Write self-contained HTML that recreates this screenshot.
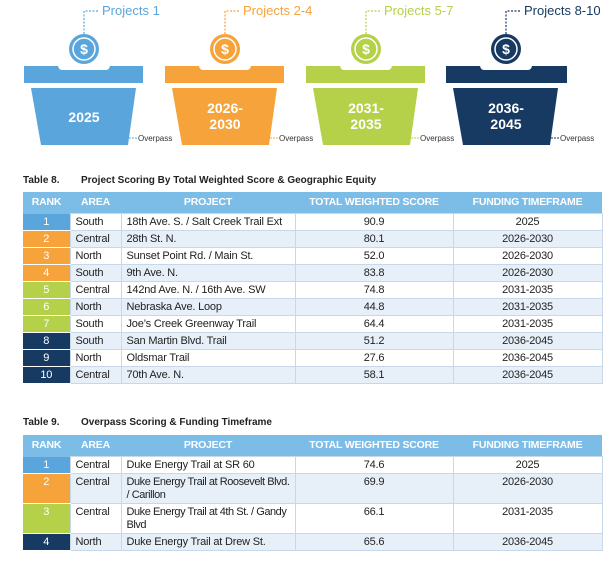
<!DOCTYPE html>
<html><head><meta charset="utf-8">
<style>
body{margin:0;width:611px;height:571px;background:#fff;position:relative;overflow:hidden;font-family:"Liberation Sans",sans-serif;}
.title{position:absolute;left:23px;font-size:10px;font-weight:bold;color:#222;}
.title span{position:absolute;left:58px;white-space:nowrap;}
table{position:absolute;left:23px;width:579px;border-collapse:collapse;table-layout:fixed;font-size:11px;color:#222;letter-spacing:-0.2px;}
th{background:#7cbde8;color:#fff;font-weight:bold;font-size:10.5px;height:21px;padding:0;line-height:21px;}
td{border:1px solid #c9d8e6;padding:0 0 0 5px;height:16px;line-height:16px;vertical-align:top;}
td.c{text-align:center;padding-left:0;}
td.r{color:#fff;text-align:center;padding-left:0;border:none;border-bottom:1px solid #fff;}
td.t{line-height:13px;height:30px;padding-top:2px;box-sizing:border-box;}
td.p{letter-spacing:-0.45px;}
tr.s td{background:#e7f0f9;}
.b1{background:#5aa6dc!important}.b2{background:#f7a33b!important}.b3{background:#b5d14a!important}.b4{background:#173a63!important}
</style></head><body>
<svg width="611" height="160" style="position:absolute;left:0;top:0" font-family="Liberation Sans, sans-serif">
<g transform="translate(0,0)">
 <path d="M84 34 V11 H98" fill="none" stroke="#5aa6dc" stroke-width="1.2" stroke-dasharray="2,1.5"/>
 <text x="102" y="15" font-size="13" fill="#5aa6dc">Projects 1</text>
 <circle cx="84" cy="49" r="15" fill="#5aa6dc"/><circle cx="84" cy="49" r="11" fill="none" stroke="#fff" stroke-width="1.5"/>
 <text x="84" y="54" font-size="14" font-weight="bold" fill="#fff" text-anchor="middle">$</text>
 <path d="M24 66 H58 Q59 70 62 70 H106 Q109 70 110 66 H143 V83 H24Z" fill="#5aa6dc"/>
 <path d="M31 88 H136 L128 145 H41Z" fill="#5aa6dc"/>
 <text x="84" y="122" font-size="14" font-weight="bold" fill="#fff" text-anchor="middle">2025</text>
 <path d="M129 138 H137" stroke="#5aa6dc" stroke-dasharray="2,1"/>
 <text x="138" y="141" font-size="8" fill="#333">Overpass</text>
</g>
<g transform="translate(141,0)">
 <path d="M84 34 V11 H98" fill="none" stroke="#f7a33b" stroke-width="1.2" stroke-dasharray="2,1.5"/>
 <text x="102" y="15" font-size="13" fill="#f7a33b">Projects 2-4</text>
 <circle cx="84" cy="49" r="15" fill="#f7a33b"/><circle cx="84" cy="49" r="11" fill="none" stroke="#fff" stroke-width="1.5"/>
 <text x="84" y="54" font-size="14" font-weight="bold" fill="#fff" text-anchor="middle">$</text>
 <path d="M24 66 H58 Q59 70 62 70 H106 Q109 70 110 66 H143 V83 H24Z" fill="#f7a33b"/>
 <path d="M31 88 H136 L128 145 H41Z" fill="#f7a33b"/>
 <text x="84" y="113" font-size="14" font-weight="bold" fill="#fff" text-anchor="middle">2026-</text>
 <text x="84" y="129" font-size="14" font-weight="bold" fill="#fff" text-anchor="middle">2030</text>
 <path d="M129 138 H137" stroke="#f7a33b" stroke-dasharray="2,1"/>
 <text x="138" y="141" font-size="8" fill="#333">Overpass</text>
</g>
<g transform="translate(282,0)">
 <path d="M84 34 V11 H98" fill="none" stroke="#b5d14a" stroke-width="1.2" stroke-dasharray="2,1.5"/>
 <text x="102" y="15" font-size="13" fill="#b5d14a">Projects 5-7</text>
 <circle cx="84" cy="49" r="15" fill="#b5d14a"/><circle cx="84" cy="49" r="11" fill="none" stroke="#fff" stroke-width="1.5"/>
 <text x="84" y="54" font-size="14" font-weight="bold" fill="#fff" text-anchor="middle">$</text>
 <path d="M24 66 H58 Q59 70 62 70 H106 Q109 70 110 66 H143 V83 H24Z" fill="#b5d14a"/>
 <path d="M31 88 H136 L128 145 H41Z" fill="#b5d14a"/>
 <text x="84" y="113" font-size="14" font-weight="bold" fill="#fff" text-anchor="middle">2031-</text>
 <text x="84" y="129" font-size="14" font-weight="bold" fill="#fff" text-anchor="middle">2035</text>
 <path d="M129 138 H137" stroke="#b5d14a" stroke-dasharray="2,1"/>
 <text x="138" y="141" font-size="8" fill="#333">Overpass</text>
</g>
<g transform="translate(422,0)">
 <path d="M84 34 V11 H98" fill="none" stroke="#173a63" stroke-width="1.2" stroke-dasharray="2,1.5"/>
 <text x="102" y="15" font-size="13" fill="#173a63">Projects 8-10</text>
 <circle cx="84" cy="49" r="15" fill="#173a63"/><circle cx="84" cy="49" r="11" fill="none" stroke="#fff" stroke-width="1.5"/>
 <text x="84" y="54" font-size="14" font-weight="bold" fill="#fff" text-anchor="middle">$</text>
 <path d="M24 66 H58 Q59 70 62 70 H106 Q109 70 110 66 H145 V83 H24Z" fill="#173a63"/>
 <path d="M31 88 H136 L128 145 H41Z" fill="#173a63"/>
 <text x="84" y="113" font-size="14" font-weight="bold" fill="#fff" text-anchor="middle">2036-</text>
 <text x="84" y="129" font-size="14" font-weight="bold" fill="#fff" text-anchor="middle">2045</text>
 <path d="M129 138 H137" stroke="#173a63" stroke-dasharray="2,1"/>
 <text x="138" y="141" font-size="8" fill="#333">Overpass</text>
</g>
</svg>

<div class="title" style="top:175px">Table 8.<span>Project Scoring By Total Weighted Score &amp; Geographic Equity</span></div>
<table style="top:192px">
<colgroup><col style="width:47px"><col style="width:51px"><col style="width:174px"><col style="width:158px"><col style="width:149px"></colgroup>
<tr><th>RANK</th><th>AREA</th><th>PROJECT</th><th>TOTAL WEIGHTED SCORE</th><th>FUNDING TIMEFRAME</th></tr>
<tr><td class="r b1">1</td><td>South</td><td>18th Ave. S. / Salt Creek Trail Ext</td><td class="c">90.9</td><td class="c">2025</td></tr>
<tr class="s"><td class="r b2">2</td><td>Central</td><td>28th St. N.</td><td class="c">80.1</td><td class="c">2026-2030</td></tr>
<tr><td class="r b2">3</td><td>North</td><td>Sunset Point Rd. / Main St.</td><td class="c">52.0</td><td class="c">2026-2030</td></tr>
<tr class="s"><td class="r b2">4</td><td>South</td><td>9th Ave. N.</td><td class="c">83.8</td><td class="c">2026-2030</td></tr>
<tr><td class="r b3">5</td><td>Central</td><td>142nd Ave. N. / 16th Ave. SW</td><td class="c">74.8</td><td class="c">2031-2035</td></tr>
<tr class="s"><td class="r b3">6</td><td>North</td><td>Nebraska Ave. Loop</td><td class="c">44.8</td><td class="c">2031-2035</td></tr>
<tr><td class="r b3">7</td><td>South</td><td>Joe’s Creek Greenway Trail</td><td class="c">64.4</td><td class="c">2031-2035</td></tr>
<tr class="s"><td class="r b4">8</td><td>South</td><td>San Martin Blvd. Trail</td><td class="c">51.2</td><td class="c">2036-2045</td></tr>
<tr><td class="r b4">9</td><td>North</td><td>Oldsmar Trail</td><td class="c">27.6</td><td class="c">2036-2045</td></tr>
<tr class="s"><td class="r b4">10</td><td>Central</td><td>70th Ave. N.</td><td class="c">58.1</td><td class="c">2036-2045</td></tr>
</table>

<div class="title" style="top:417px">Table 9.<span>Overpass Scoring &amp; Funding Timeframe</span></div>
<table style="top:435px">
<colgroup><col style="width:47px"><col style="width:51px"><col style="width:174px"><col style="width:158px"><col style="width:149px"></colgroup>
<tr><th>RANK</th><th>AREA</th><th>PROJECT</th><th>TOTAL WEIGHTED SCORE</th><th>FUNDING TIMEFRAME</th></tr>
<tr><td class="r b1">1</td><td>Central</td><td>Duke Energy Trail at SR 60</td><td class="c">74.6</td><td class="c">2025</td></tr>
<tr class="s"><td class="r b2 t">2</td><td class="t">Central</td><td class="t p">Duke Energy Trail at Roosevelt Blvd. / Carillon</td><td class="c t">69.9</td><td class="c t">2026-2030</td></tr>
<tr><td class="r b3 t">3</td><td class="t">Central</td><td class="t p">Duke Energy Trail at 4th St. / Gandy Blvd</td><td class="c t">66.1</td><td class="c t">2031-2035</td></tr>
<tr class="s"><td class="r b4">4</td><td>North</td><td>Duke Energy Trail at Drew St.</td><td class="c">65.6</td><td class="c">2036-2045</td></tr>
</table>
</body></html>
